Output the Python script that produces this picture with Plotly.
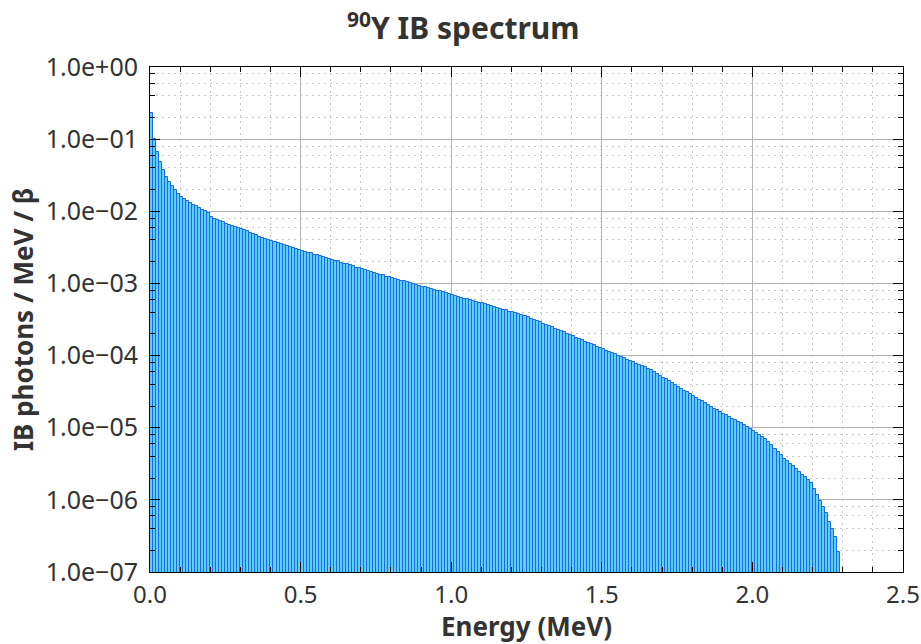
import numpy as np
import plotly.graph_objects as go

# Histogram bins (MeV): 229 bins of 0.01 MeV from 0.00 to 2.29
bin_width = 0.01
bin_low = [round(i * bin_width, 2) for i in range(229)]

# log10 of IB photons / MeV / beta for each bin
ib_log10 = [
    -0.64, -1.00, -1.18, -1.31, -1.43, -1.52, -1.59, -1.65, -1.71, -1.76,
    -1.80, -1.83, -1.86, -1.88, -1.91, -1.93, -1.95, -1.98, -2.00, -2.03,
    -2.08, -2.10, -2.12, -2.14, -2.155, -2.17, -2.185, -2.20, -2.215, -2.23,
    -2.25, -2.265, -2.28, -2.30, -2.315, -2.33, -2.35, -2.365, -2.38, -2.395,
    -2.41, -2.43, -2.44, -2.455, -2.47, -2.48, -2.495, -2.51, -2.52, -2.535,
    -2.55, -2.56, -2.575, -2.585, -2.60, -2.61, -2.62, -2.635, -2.645, -2.66,
    -2.67, -2.685, -2.695, -2.71, -2.725, -2.735, -2.75, -2.765, -2.78, -2.79,
    -2.805, -2.82, -2.83, -2.845, -2.86, -2.87, -2.88, -2.89, -2.905, -2.915,
    -2.925, -2.935, -2.95, -2.96, -2.97, -2.985, -2.995, -3.01, -3.02, -3.03,
    -3.045, -3.055, -3.065, -3.08, -3.09, -3.10, -3.11, -3.125, -3.135, -3.15,
    -3.16, -3.175, -3.185, -3.195, -3.21, -3.22, -3.23, -3.24, -3.255, -3.265,
    -3.275, -3.29, -3.30, -3.31, -3.325, -3.34, -3.35, -3.365, -3.375, -3.39,
    -3.40, -3.415, -3.43, -3.44, -3.455, -3.47, -3.49, -3.505, -3.52, -3.54,
    -3.56, -3.575, -3.595, -3.61, -3.63, -3.645, -3.665, -3.68, -3.70, -3.715,
    -3.735, -3.75, -3.77, -3.785, -3.805, -3.82, -3.84, -3.855, -3.875, -3.89,
    -3.91, -3.93, -3.945, -3.965, -3.98, -4.00, -4.02, -4.035, -4.055, -4.075,
    -4.09, -4.11, -4.13, -4.145, -4.165, -4.18, -4.205, -4.23, -4.255, -4.28,
    -4.305, -4.33, -4.355, -4.38, -4.41, -4.435, -4.46, -4.485, -4.51, -4.535,
    -4.56, -4.585, -4.61, -4.635, -4.66, -4.69, -4.715, -4.74, -4.76, -4.785,
    -4.805, -4.83, -4.85, -4.875, -4.895, -4.92, -4.94, -4.965, -4.99, -5.015,
    -5.04, -5.07, -5.10, -5.125, -5.16, -5.20, -5.245, -5.29, -5.335, -5.38,
    -5.43, -5.465, -5.50, -5.535, -5.57, -5.61, -5.65, -5.69, -5.73, -5.77,
    -5.85, -5.93, -6.01, -6.10, -6.18, -6.30, -6.40, -6.52, -6.72,
]
ib_per_mev = [10 ** v for v in ib_log10]

y_tick_vals = [1e-7, 1e-6, 1e-5, 1e-4, 1e-3, 1e-2, 1e-1, 1e0]
y_tick_text = ["1.0e\u221207", "1.0e\u221206", "1.0e\u221205", "1.0e\u221204",
               "1.0e\u221203", "1.0e\u221202", "1.0e\u221201", "1.0e+00"]
x_tick_vals = [0.0, 0.5, 1.0, 1.5, 2.0, 2.5]
x_tick_text = ["0.0", "0.5", "1.0", "1.5", "2.0", "2.5"]

y_minor = [k * 10.0 ** e for e in range(-7, 0) for k in (2, 4, 6, 8)]
x_minor = [round(0.1 * i, 1) for i in range(26)]

FONT = "Noto Sans"
TXT = "#333333"

fig = go.Figure(
    go.Bar(
        x=[b + bin_width / 2 for b in bin_low],
        y=ib_per_mev,
        width=bin_width,
        marker=dict(color="#5ccfff", line=dict(color="#1e68e2", width=1)),
        hoverinfo="x+y",
    )
)

fig.update_layout(
    width=921,
    height=644,
    margin=dict(l=150, r=18, t=67, b=72),
    paper_bgcolor="white",
    plot_bgcolor="white",
    bargap=0,
    showlegend=False,
    title=dict(
        text="<b><sup>90</sup>Y IB spectrum</b>",
        x=0.503, xref="container", xanchor="center",
        y=0.955, yref="container", yanchor="middle",
        font=dict(family=FONT, size=30, color=TXT),
    ),
    font=dict(family=FONT, color=TXT),
)

common = dict(
    ticks="inside",
    ticklen=10,
    tickcolor="black",
    showline=True,
    linecolor="black",
    linewidth=1,
    mirror="ticks",
    showgrid=True,
    gridcolor="#b3b3b3",
    gridwidth=1,
    zeroline=False,
    automargin=False,
)

minor_common = dict(
    ticks="inside",
    ticklen=5,
    tickcolor="black",
    showgrid=True,
    gridcolor="#c8c8c8",
    griddash="2px,4px",
    gridwidth=1,
)

fig.update_xaxes(
    range=[0, 2.5],
    tickvals=x_tick_vals,
    ticktext=x_tick_text,
    ticklabelstandoff=1,
    tickfont=dict(family=FONT, size=24, color=TXT),
    title=dict(text="<b>Energy (MeV)</b>", font=dict(family=FONT, size=26, color=TXT), standoff=7),
    minor=dict(tickvals=x_minor, **minor_common),
    **common,
)

fig.update_yaxes(
    type="log",
    range=[-7, 0],
    tickvals=y_tick_vals,
    ticktext=y_tick_text,
    ticklabelstandoff=6,
    tickfont=dict(family=FONT, size=25, color=TXT),
    title=dict(text="<b>IB photons / MeV / \u03b2</b>", font=dict(family=FONT, size=26, color=TXT), standoff=4),
    minor=dict(tickvals=y_minor, **minor_common),
    **common,
)

fig.write_html("out.html")
